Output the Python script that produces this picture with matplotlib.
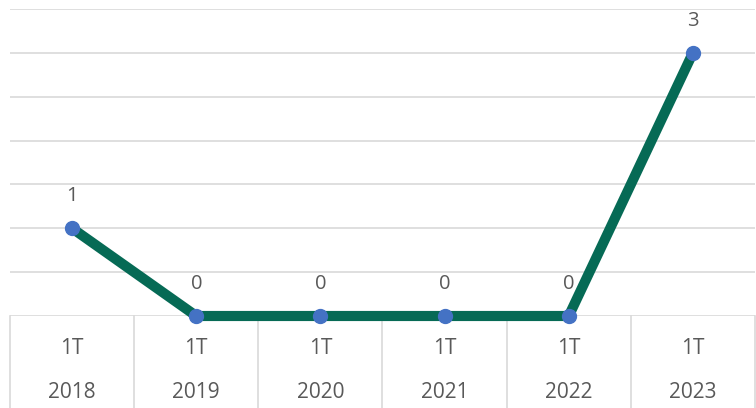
import matplotlib
matplotlib.use("Agg")
import matplotlib.pyplot as plt
import matplotlib.transforms as mtransforms

quarters = ["1T", "1T", "1T", "1T", "1T", "1T"]
years = ["2018", "2019", "2020", "2021", "2022", "2023"]
values = [1, 0, 0, 0, 0, 3]

line_color = "#066A55"
dot_color = "#4472C4"
grid_color = "#D9D9D9"
text_color = "#595959"

plt.rcParams["font.family"] = ["Open Sans", "DejaVu Sans"]

fig = plt.figure(figsize=(7.56, 4.08), dpi=100)
W, H = 756, 408
ax = fig.add_axes([10 / W, 1 - 316 / H, 745 / W, 307 / H])

x = list(range(len(values)))
ax.plot(x, values, color=line_color, lw=7.3, solid_capstyle="butt", zorder=3,
        clip_on=False)
ax.plot(x, values, "o", color=dot_color, ms=10, zorder=4, clip_on=False)

for xi, v in zip(x, values):
    ax.annotate(str(v), (xi, v), xytext=(0, 23), textcoords="offset points",
                ha="center", va="center", fontsize=14.5, color=text_color)

ax.set_xlim(-0.5, len(values) - 0.5)
ax.set_ylim(0, 3.5)
ax.set_yticks([i * 0.5 for i in range(8)])
ax.yaxis.grid(True, color=grid_color, lw=1.2)
ax.set_axisbelow(True)
ax.set_xticks([])
ax.tick_params(left=False, labelleft=False)
for s in ax.spines.values():
    s.set_visible(False)

# two-level category axis
trans = mtransforms.blended_transform_factory(ax.transData, ax.transAxes)
for b in range(len(values) + 1):
    ax.plot([b - 0.5, b - 0.5], [0, -0.35], transform=trans, color=grid_color,
            lw=1.2, clip_on=False)
for xi, q, yr in zip(x, quarters, years):
    ax.text(xi, -0.105, q, transform=trans, ha="center", va="center",
            fontsize=15, color=text_color)
    ax.text(xi, -0.25, yr, transform=trans, ha="center", va="center",
            fontsize=15, color=text_color)

fig.savefig("out.png", dpi=100)
